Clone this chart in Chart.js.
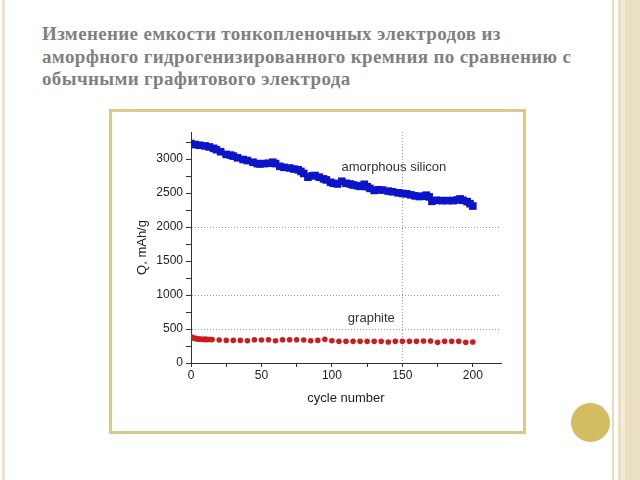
<!DOCTYPE html>
<html>
<head>
<meta charset="utf-8">
<script src="https://cdn.jsdelivr.net/npm/chart.js@4"></script>
<style>
  html, body { margin: 0; padding: 0; background: #fff; }
  body { width: 640px; height: 480px; position: relative; overflow: hidden; }
  .edge-left { position: absolute; left: 2px; top: 0; width: 3px; height: 480px; background: #ece4cc; }
  .edge-thin { position: absolute; left: 612px; top: 0; width: 2px; height: 480px; background: #e6dcbb; }
  .edge-band { position: absolute; left: 618px; top: 0; width: 22px; height: 480px; background: #eadfc4; }
  .edge-stripe { position: absolute; left: 621px; top: 0; width: 4px; height: 480px; background: #f2ebd9; }
  .dot { position: absolute; left: 571px; top: 403px; width: 39px; height: 39px; border-radius: 50%; background: #d4bc62; }
  h1 {
    position: absolute; left: 42px; top: 23px; margin: 0; white-space: nowrap;
    font: bold 19px/22.5px "Liberation Serif", "Times New Roman", serif;
    letter-spacing: 0.35px;
    color: #808080;
  }
  .frame {
    position: absolute; left: 109px; top: 109px; width: 417px; height: 325px;
    box-sizing: border-box; border: 3px solid #d9c98c; background: #fff;
  }
  .frame canvas { position: absolute; left: 0; top: 0; }
</style>
</head>
<body>
<div class="edge-left"></div>
<div class="edge-thin"></div>
<div class="edge-band"></div>
<div class="edge-stripe"></div>
<div class="dot"></div>
<h1>Изменение емкости тонкопленочных электродов из<br>аморфного гидрогенизированного кремния по сравнению с<br>обычными графитового электрода</h1>
<div class="frame"><canvas id="capChart" width="411" height="319"></canvas></div>

<script>
// ── Data ─────────────────────────────────────────────────────────
const siCycles = [0, 3, 6, 10, 13, 16, 18, 21, 25, 28, 30, 33, 37, 40, 44, 47, 49, 52, 55, 58,
  60, 63, 66, 70, 73, 76, 78, 80, 83, 86, 88, 91, 94, 96, 99, 101, 104, 107, 110, 113,
  115, 118, 120, 123, 125, 127, 130, 133, 136, 140, 143, 147, 150, 153, 156, 159, 162, 165, 167, 169,
  171, 174, 178, 182, 186, 189, 191, 193, 196, 198, 200];
const siCapacity = [3230, 3215, 3205, 3195, 3180, 3160, 3140, 3110, 3070, 3060, 3045, 3020, 2995, 2980, 2955, 2935, 2930, 2935, 2940, 2955,
  2935, 2895, 2880, 2870, 2855, 2845, 2820, 2790, 2735, 2755, 2760, 2735, 2710, 2695, 2660, 2645, 2635, 2675, 2645, 2635,
  2620, 2610, 2600, 2630, 2595, 2570, 2540, 2550, 2545, 2530, 2520, 2505, 2495, 2490, 2475, 2460, 2450, 2455, 2470, 2445,
  2380, 2395, 2390, 2390, 2390, 2400, 2415, 2395, 2375, 2345, 2310];

const grCycles = [0, 1, 2, 3, 4, 5, 6, 7, 8, 9, 10, 11, 12, 13, 14, 15,
  20, 25, 30, 35, 40, 45, 50, 55, 60, 65, 70, 75, 80, 85, 90, 95, 100,
  105, 110, 115, 120, 125, 130, 135, 140, 145, 150, 155, 160, 165, 170, 175, 180, 185, 190, 195, 200];
const grCapacity = [385, 375, 368, 362, 357, 354, 352, 350, 349, 348, 347, 347, 346, 346, 345, 345,
  338, 333, 333, 333, 328, 343, 338, 343, 328, 343, 343, 343, 338, 328, 333, 348, 328,
  319, 319, 319, 319, 319, 319, 319, 309, 319, 319, 319, 319, 324, 324, 304, 319, 319, 319, 304, 309];

const yGridLines = [500, 1000, 2000];
const xGridLines = [150];

// text labels placed in data units
const seriesLabels = [
  { text: "amorphous silicon", cycle: 144, q: 2880 },
  { text: "graphite", cycle: 128, q: 660 }
];

const toPoints = (xs, ys) => xs.map((x, i) => ({ x: x, y: ys[i] }));

// ── Label plugin ─────────────────────────────────────────────────
const labelPlugin = {
  id: "seriesLabels",
  afterDatasetsDraw(chart) {
    const { ctx, scales } = chart;
    ctx.save();
    ctx.font = '13px "Liberation Sans", Arial, sans-serif';
    ctx.fillStyle = "#333";
    ctx.textAlign = "center";
    ctx.textBaseline = "middle";
    seriesLabels.forEach(l => {
      ctx.fillText(l.text, scales.x.getPixelForValue(l.cycle), scales.y.getPixelForValue(l.q));
    });
    ctx.restore();
  }
};

const axisFont = { family: '"Liberation Sans", Arial, sans-serif', size: 12 };
const titleFont = { family: '"Liberation Sans", Arial, sans-serif', size: 13 };

new Chart(document.getElementById("capChart"), {
  type: "scatter",
  data: {
    datasets: [
      {
        label: "amorphous silicon",
        data: toPoints(siCycles, siCapacity),
        showLine: true,
        borderColor: "#0c14c8",
        backgroundColor: "#0c14c8",
        borderWidth: 5.5,
        pointStyle: "rect",
        pointRadius: 1.5,
        tension: 0
      },
      {
        label: "graphite",
        data: toPoints(grCycles, grCapacity),
        showLine: false,
        borderColor: "#cc1c1c",
        backgroundColor: "#cc1c1c",
        pointRadius: 2.8,
        borderWidth: 0
      }
    ]
  },
  options: {
    responsive: false,
    animation: false,
    devicePixelRatio: 1,
    layout: { padding: { top: 20, right: 22, left: 0, bottom: 0 } },
    plugins: { legend: { display: false }, tooltip: { enabled: false } },
    scales: {
      x: {
        type: "linear",
        min: 0,
        max: 220,
        afterFit: s => { s.height = 68; },
        ticks: {
          stepSize: 25,
          includeBounds: false,
          maxRotation: 0,
          autoSkip: false,
          padding: 1,
          color: "#222",
          font: axisFont,
          callback: v => (v % 50 === 0 ? v : "")
        },
        grid: {
          color: c => (c.tick && xGridLines.includes(c.tick.value) ? "#9a9a9a" : "transparent"),
          tickColor: "#333",
          tickLength: 4
        },
        border: { display: true, color: "#333", width: 1, dash: [1, 2] },
        title: { display: true, text: "cycle number", color: "#222", font: titleFont, padding: { top: 0, bottom: 25 } }
      },
      y: {
        type: "linear",
        min: 0,
        max: 3400,
        afterFit: s => { s.width = 79; },
        ticks: {
          stepSize: 250,
          includeBounds: false,
          autoSkip: false,
          padding: 3,
          color: "#222",
          font: axisFont,
          callback: v => (v % 500 === 0 ? v : "")
        },
        grid: {
          color: c => (c.tick && yGridLines.includes(c.tick.value) ? "#9a9a9a" : "transparent"),
          tickColor: "#333",
          tickLength: 5
        },
        border: { display: true, color: "#333", width: 1, dash: [1, 2] },
        title: { display: true, text: "Q, mAh/g", color: "#222", font: titleFont, padding: { top: 23, bottom: 0 } }
      }
    }
  },
  plugins: [labelPlugin]
});
</script>
</body>
</html>
